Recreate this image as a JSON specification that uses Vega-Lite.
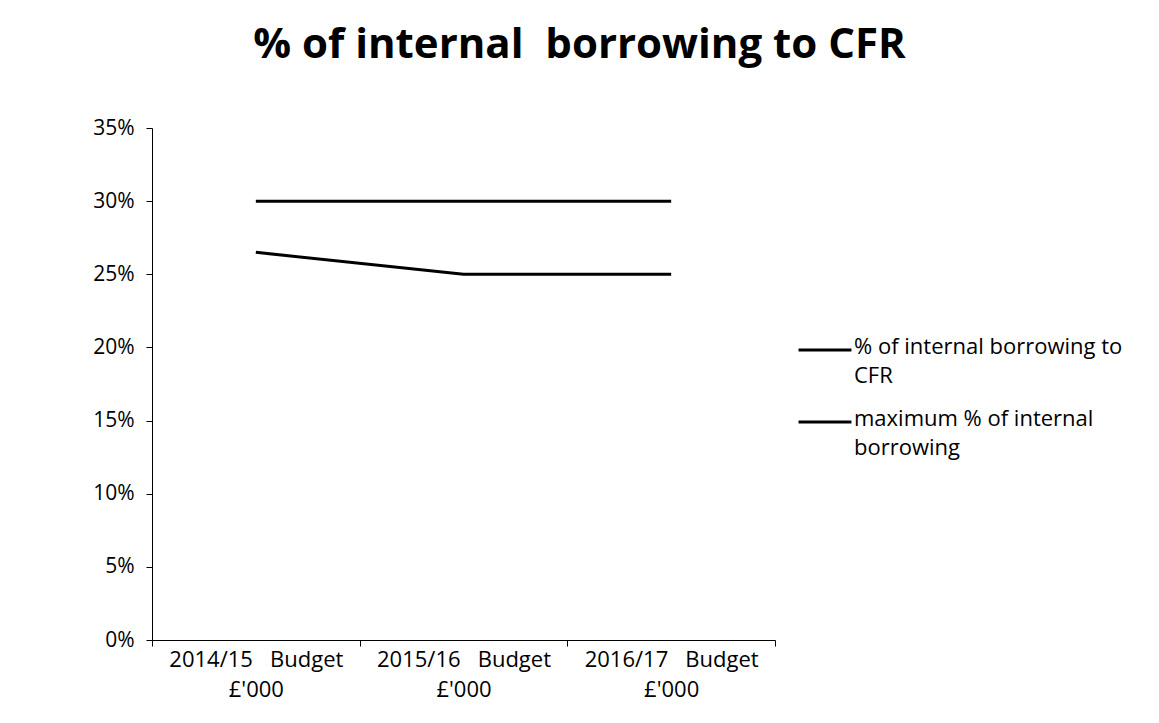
{
  "$schema": "https://vega.github.io/schema/vega-lite/v6.json",
  "autosize": "none",
  "width": 623,
  "height": 512,
  "padding": {"left": 152, "top": 128, "right": 384, "bottom": 83},
  "background": "white",
  "title": {
    "text": "% of internal\u00a0\u00a0borrowing to CFR",
    "font": "Open Sans",
    "fontSize": 42,
    "fontWeight": "bold",
    "color": "#000000",
    "anchor": "middle",
    "frame": "group",
    "dx": 116,
    "offset": 50
  },
  "data": {
    "values": [
      {"year": "2014/15 Budget £'000", "series": "% of internal borrowing to CFR", "value": 0.265},
      {"year": "2015/16 Budget £'000", "series": "% of internal borrowing to CFR", "value": 0.25},
      {"year": "2016/17 Budget £'000", "series": "% of internal borrowing to CFR", "value": 0.25},
      {"year": "2014/15 Budget £'000", "series": "maximum % of internal borrowing", "value": 0.30},
      {"year": "2015/16 Budget £'000", "series": "maximum % of internal borrowing", "value": 0.30},
      {"year": "2016/17 Budget £'000", "series": "maximum % of internal borrowing", "value": 0.30}
    ]
  },
  "mark": {"type": "line", "strokeWidth": 3, "color": "#000000"},
  "encoding": {
    "x": {
      "field": "year",
      "type": "nominal",
      "sort": null,
      "scale": {"type": "band", "paddingInner": 0, "paddingOuter": 0},
      "axis": {
        "title": null,
        "labelAngle": 0,
        "tickBand": "extent",
        "labelExpr": "datum.label ? [slice(datum.label, 0, 7) + '\u00a0\u00a0\u00a0Budget', '£\\'000'] : ''",
        "labelFont": "Open Sans",
        "labelFontSize": 22,
        "labelColor": "#000000",
        "labelLineHeight": 30,
        "labelBaseline": "top",
        "labelPadding": 3,
        "domainColor": "#000000",
        "tickColor": "#000000",
        "tickSize": 6,
        "labelLimit": 300
      }
    },
    "y": {
      "field": "value",
      "type": "quantitative",
      "scale": {"domain": [0, 0.35]},
      "axis": {
        "title": null,
        "values": [0, 0.05, 0.1, 0.15, 0.2, 0.25, 0.3, 0.35],
        "format": ".0%",
        "grid": false,
        "labelFont": "Open Sans",
        "labelFontSize": 21,
        "labelColor": "#000000",
        "labelPadding": 12,
        "domainColor": "#000000",
        "tickColor": "#000000",
        "tickSize": 6
      }
    },
    "detail": {"field": "series", "type": "nominal"},
    "color": {
      "field": "series",
      "type": "nominal",
      "scale": {
        "domain": ["% of internal borrowing to CFR", "maximum % of internal borrowing"],
        "range": ["#000000", "#000000"]
      },
      "legend": {
        "title": null,
        "orient": "none",
        "legendX": 645,
        "legendY": 194,
        "symbolType": "stroke",
        "symbolSize": 2800,
        "symbolStrokeWidth": 3,
        "symbolStrokeColor": "#000000",
        "labelExpr": "datum.label == '% of internal borrowing to CFR' ? ['% of internal borrowing to', 'CFR'] : ['maximum % of internal', 'borrowing']",
        "labelFont": "Open Sans",
        "labelFontSize": 22,
        "labelColor": "#000000",
        "labelBaseline": "top",
        "labelOffset": 1,
        "labelLimit": 400,
        "rowPadding": 7,
        "encode": {
          "labels": {"update": {"lineHeight": {"value": 29}, "dy": {"value": -13}}}
        }
      }
    }
  },
  "config": {"view": {"stroke": null}}
}
